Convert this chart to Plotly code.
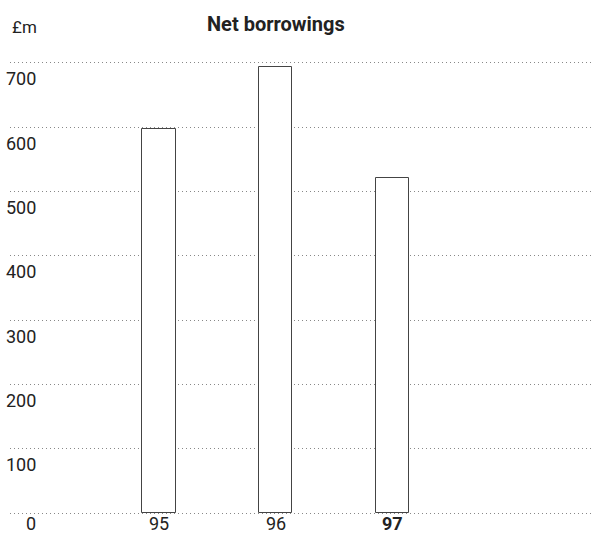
import plotly.graph_objects as go

years = ["95", "96", "97"]
values = [598, 693, 521]
y_ticks = [0, 100, 200, 300, 400, 500, 600, 700]
y_tick_labels = ["0", "100", "200", "300", "400", "500", "600", "700"]

FONT = "Roboto, Arial, sans-serif"
TXT = "#222222"

xpos = list(range(len(years)))

fig = go.Figure()
fig.add_trace(go.Bar(
    x=xpos, y=values, width=0.283,
    marker=dict(color="white", line=dict(color="#444444", width=1)),
    hoverinfo="skip", showlegend=False,
))

annotations = []
for v, lab in zip(y_ticks, y_tick_labels):
    if v == 0:
        annotations.append(dict(
            xref="paper", yref="y", x=0.048, y=v, yshift=-23,
            text=lab, showarrow=False, xanchor="right", yanchor="bottom",
            font=dict(family=FONT, size=18, color=TXT),
        ))
    else:
        annotations.append(dict(
            xref="paper", yref="y", x=0.048, y=v, yshift=-16,
            text=lab, showarrow=False, xanchor="right", yanchor="middle",
            font=dict(family=FONT, size=18, color=TXT),
        ))
for i, yr in enumerate(years):
    txt = f"<b>{yr}</b>" if i == len(years) - 1 else yr
    annotations.append(dict(
        xref="x", yref="y", x=xpos[i], y=0, yshift=-23,
        text=txt, showarrow=False, xanchor="center", yanchor="bottom",
        font=dict(family=FONT, size=18, color=TXT),
    ))
annotations.append(dict(
    xref="x", yref="paper", x=1, y=1, yshift=37,
    text="<b>Net borrowings</b>", showarrow=False, xanchor="center", yanchor="middle",
    font=dict(family=FONT, size=20, color=TXT),
))
annotations.append(dict(
    xref="paper", yref="paper", x=0, y=1, yshift=34,
    text="£m", showarrow=False, xanchor="left", yanchor="middle",
    font=dict(family=FONT, size=17, color=TXT),
))

fig.update_layout(
    width=593, height=536,
    margin=dict(l=10, r=0, t=61, b=21),
    paper_bgcolor="white", plot_bgcolor="white",
    xaxis=dict(range=[-1.277, 3.72], showgrid=False, zeroline=False,
               showticklabels=False, showline=False, fixedrange=True),
    yaxis=dict(range=[-3, 703], tickvals=y_ticks, showticklabels=False,
               showgrid=True, gridcolor="#888888", gridwidth=1, griddash="1px,3px",
               zeroline=False, showline=False, fixedrange=True),
    annotations=annotations,
    bargap=0,
)

fig.write_html("out.html")
